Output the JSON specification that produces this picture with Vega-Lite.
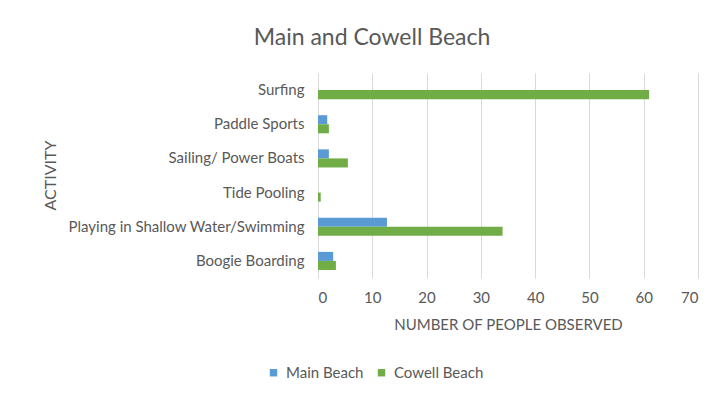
{
  "$schema": "https://vega.github.io/schema/vega-lite/v6.json",
  "width": 380,
  "height": 205,
  "autosize": {"type": "none"},
  "padding": {"left": 318, "top": 73, "right": 16, "bottom": 119},
  "background": "white",
  "title": {
    "text": "Main and Cowell Beach",
    "font": "Lato",
    "fontSize": 23,
    "fontWeight": "normal",
    "color": "#595959",
    "anchor": "middle",
    "dx": -136,
    "offset": 23
  },
  "data": {
    "values": [
      {"activity": "Surfing", "series": "Main Beach", "people": 0},
      {"activity": "Surfing", "series": "Cowell Beach", "people": 61},
      {"activity": "Paddle Sports", "series": "Main Beach", "people": 1.7},
      {"activity": "Paddle Sports", "series": "Cowell Beach", "people": 2},
      {"activity": "Sailing/ Power Boats", "series": "Main Beach", "people": 2},
      {"activity": "Sailing/ Power Boats", "series": "Cowell Beach", "people": 5.5},
      {"activity": "Tide Pooling", "series": "Main Beach", "people": 0},
      {"activity": "Tide Pooling", "series": "Cowell Beach", "people": 0.5},
      {"activity": "Playing in Shallow Water/Swimming", "series": "Main Beach", "people": 12.7},
      {"activity": "Playing in Shallow Water/Swimming", "series": "Cowell Beach", "people": 34},
      {"activity": "Boogie Boarding", "series": "Main Beach", "people": 2.8},
      {"activity": "Boogie Boarding", "series": "Cowell Beach", "people": 3.3}
    ]
  },
  "mark": {"type": "bar"},
  "encoding": {
    "y": {
      "field": "activity",
      "type": "nominal",
      "sort": ["Surfing", "Paddle Sports", "Sailing/ Power Boats", "Tide Pooling", "Playing in Shallow Water/Swimming", "Boogie Boarding"],
      "scale": {"paddingInner": 0.47, "paddingOuter": 0.235},
      "axis": {
        "title": "ACTIVITY",
        "titleFont": "Lato",
        "titleFontSize": 16,
        "titleFontWeight": "normal",
        "titleColor": "#595959",
        "titleAngle": -90,
        "titleX": -268,
        "titleY": 102,
        "titleAlign": "center",
        "titleBaseline": "middle",
        "labelFont": "Lato",
        "labelFontSize": 15,
        "labelLimit": 320,
        "labelColor": "#595959",
        "labelPadding": 14,
        "ticks": false,
        "domain": true,
        "domainColor": "#d9d9d9",
        "domainWidth": 1,
        "grid": false
      }
    },
    "yOffset": {
      "field": "series",
      "type": "nominal",
      "sort": ["Main Beach", "Cowell Beach"]
    },
    "x": {
      "field": "people",
      "type": "quantitative",
      "scale": {"domain": [0, 70], "nice": false},
      "axis": {
        "title": "NUMBER OF PEOPLE OBSERVED",
        "values": [0, 10, 20, 30, 40, 50, 60, 70],
        "titleFont": "Lato",
        "titleFontSize": 15,
        "titleFontWeight": "normal",
        "titleColor": "#595959",
        "titlePadding": 12,
        "labelFont": "Lato",
        "labelFontSize": 15,
        "labelColor": "#595959",
        "labelPadding": 12,
        "ticks": false,
        "domain": false,
        "grid": true,
        "gridColor": "#d9d9d9",
        "gridWidth": 1
      }
    },
    "color": {
      "field": "series",
      "type": "nominal",
      "sort": ["Main Beach", "Cowell Beach"],
      "scale": {"domain": ["Main Beach", "Cowell Beach"], "range": ["#5B9BD5", "#70AD47"]},
      "legend": {
        "title": null,
        "orient": "none",
        "direction": "horizontal",
        "legendX": -52,
        "legendY": 292,
        "symbolType": "square",
        "symbolSize": 55,
        "labelFont": "Lato",
        "labelFontSize": 15,
        "labelColor": "#595959",
        "columnPadding": 10,
        "labelOffset": 5
      }
    }
  },
  "config": {"view": {"stroke": null}}
}
